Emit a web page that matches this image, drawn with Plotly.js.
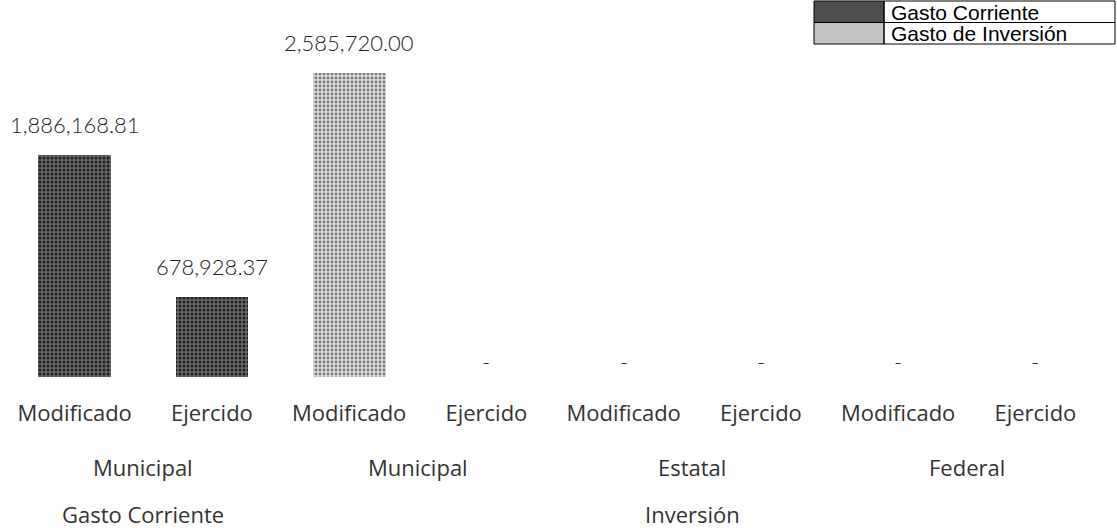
<!DOCTYPE html>
<html>
<head>
<meta charset="utf-8">
<script src="https://cdn.plot.ly/plotly-3.0.1.min.js"></script>
<style>html,body{margin:0;padding:0;background:#fff;}#chart{width:1117px;height:530px;}</style>
</head>
<body>
<div id="chart"></div>
<script>
// ---- data ----
const categories = ['Modificado','Ejercido','Modificado','Ejercido','Modificado','Ejercido','Modificado','Ejercido'];
const fuentes = ['Municipal','Municipal','Municipal','Municipal','Estatal','Estatal','Federal','Federal'];
const tipos = ['Gasto Corriente','Gasto Corriente','Inversión','Inversión','Inversión','Inversión','Inversión','Inversión'];
const seriesNames = ['Gasto Corriente','Gasto de Inversión'];
const gastoCorrienteIdx = [0, 1];
const gastoCorrienteValues = [1886168.81, 678928.37];
const inversionIdx = [2, 3, 4, 5, 6, 7];
const inversionValues = [2585720.00, 0, 0, 0, 0, 0];

// ---- helpers ----
function fmt(v){
  if (!v) return '-';
  return v.toLocaleString('en-US',{minimumFractionDigits:2, maximumFractionDigits:2});
}
const labelFont = {family:'Open Sans, sans-serif', size:22, color:'#333333'};
const valueFont = {family:'Lato, sans-serif', size:22, color:'#222222', weight:300};
const seriesStyles = [
  {color:'#4e4e4e', pattern:{shape:'.', fillmode:'replace', fgcolor:'#1e1e1e', bgcolor:'#6a6a6a', size:4, solidity:0.45}},
  {color:'#c4c4c4', pattern:{shape:'.', fillmode:'replace', fgcolor:'#7a7a7a', bgcolor:'#dedede', size:4, solidity:0.4}}
];

const traces = [
  {type:'bar', name:seriesNames[0], x:gastoCorrienteIdx, y:gastoCorrienteValues, width:0.53,
   marker:{color:seriesStyles[0].color, line:{width:0}, pattern:seriesStyles[0].pattern}, showlegend:false},
  {type:'bar', name:seriesNames[1], x:inversionIdx, y:inversionValues, width:0.53,
   marker:{color:seriesStyles[1].color, line:{width:0}, pattern:seriesStyles[1].pattern}, showlegend:false}
];

const annotations = [];
const shapes = [];
// value labels
[[gastoCorrienteIdx,gastoCorrienteValues],[inversionIdx,inversionValues]].forEach(([xs,ys])=>{
  xs.forEach((x,i)=>{
    const v = ys[i];
    annotations.push({x:x, y:v, xref:'x', yref:'y', text:fmt(v), showarrow:false,
      yanchor:'bottom', yshift: v ? 15 : 0, font:valueFont});
  });
});
// group label rows
function runs(keyFn, labelArr){
  const out=[]; let start=0;
  for(let i=1;i<=categories.length;i++){
    if(i===categories.length || keyFn(i)!==keyFn(start)){
      out.push({label:labelArr[start], center:(start+i-1)/2}); start=i;
    }
  }
  return out;
}
const W=1117, H=530, mL=6, mR=13, plotTop = 20, baseline = 377, plotH = baseline - plotTop, plotW = W-mL-mR;
function py(pix){ return (baseline - pix)/plotH; }
function px(pix){ return (pix - mL)/plotW; }
runs(i=>tipos[i]+'|'+fuentes[i], fuentes).forEach(r=>{
  annotations.push({x:r.center, y:py(467), xref:'x', yref:'paper', text:r.label, showarrow:false, yanchor:'middle', font:labelFont});
});
runs(i=>tipos[i], tipos).forEach(r=>{
  annotations.push({x:r.center, y:py(514), xref:'x', yref:'paper', text:r.label, showarrow:false, yanchor:'middle', font:labelFont});
});

// legend drawn as a small table (swatch | name)
const legL=814, legR=1115, legT=1, rowH=21.5, swR=884;
seriesNames.forEach((name,i)=>{
  const t = legT + i*rowH, b = t + rowH;
  shapes.push({type:'rect', xref:'paper', yref:'paper', x0:px(legL), x1:px(swR), y0:py(t), y1:py(b),
    fillcolor:seriesStyles[i].color, line:{color:'#000', width:1}});
  shapes.push({type:'rect', xref:'paper', yref:'paper', x0:px(swR), x1:px(legR), y0:py(t), y1:py(b),
    fillcolor:'rgba(0,0,0,0)', line:{color:'#000', width:1}});
  annotations.push({x:px(swR+5), y:py(t+rowH/2+0.5), xref:'paper', yref:'paper', text:name, showarrow:false,
    xanchor:'left', yanchor:'middle', font:{family:'Liberation Sans, Arial, sans-serif', size:21, color:'#000'}});
});

const layout = {
  width:W, height:H,
  margin:{l:mL, r:mR, t:plotTop, b:H-baseline},
  paper_bgcolor:'#ffffff', plot_bgcolor:'#ffffff',
  barmode:'overlay',
  bargap:0,
  xaxis:{
    range:[-0.5, categories.length-0.5],
    tickvals:categories.map((_,i)=>i), ticktext:categories,
    showgrid:false, zeroline:false, showline:false, ticks:'',
    tickfont:labelFont, ticklabelstandoff:21, fixedrange:true
  },
  yaxis:{
    range:[0, 3035000], visible:false, showgrid:false, zeroline:false, fixedrange:true
  },
  showlegend:false,
  shapes:shapes,
  annotations:annotations
};

Plotly.newPlot('chart', traces, layout, {displayModeBar:false, staticPlot:true});
</script>
</body>
</html>
